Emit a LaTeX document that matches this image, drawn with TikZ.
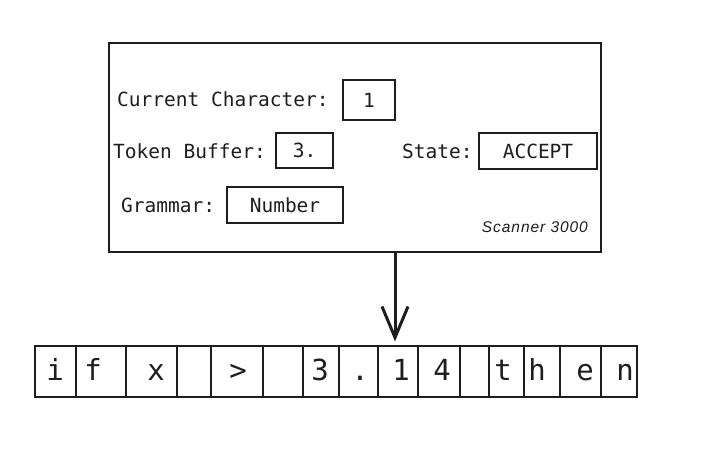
\documentclass[tikz,border=0pt]{standalone}
\usepackage{fontspec}
\setmonofont{DejaVu Sans Mono}
\newfontfamily\handfont[LetterSpace=6]{Liberation Sans}
\usetikzlibrary{arrows.meta}
\definecolor{ink}{HTML}{1E1E1E}
\tikzset{
  mainbox/.style={draw=ink, line width=2pt, inner sep=0pt},
  valbox/.style={draw=ink, line width=1.2pt, inner sep=0pt, text height=14pt, text depth=0pt, font=\ttfamily\fontsize{19.5}{20}\selectfont, text=ink},
  lbl/.style={inner sep=0pt, anchor=base west, font=\ttfamily\fontsize{19.5}{20}\selectfont, text=ink},
  cellbox/.style={draw=ink, line width=1.2pt, inner sep=0pt, minimum height=51pt},
  tapech/.style={inner sep=0pt, anchor=base, font=\ttfamily\fontsize{29}{30}\selectfont, text=ink},
  brand/.style={inner sep=0pt, anchor=base east, font=\handfont\itshape\fontsize{15.5}{16}\selectfont, text=ink},
  pointer/.style={draw=ink, line width=3pt, -{Straight Barb[length=31pt,width=26pt,line width=3pt]}}
}
\begin{document}
\begin{tikzpicture}[x=1pt,y=-1pt]
\useasboundingbox (0,0) rectangle (701,448);
\fill[white] (0,0) rectangle (701,448);

% scanner box
\node[mainbox, minimum width=492pt, minimum height=209pt] (main) at (355,147.5) {};

\node[lbl] (cclbl) at (117,106) {Current Character:};
\node[valbox, minimum width=52pt, minimum height=40pt] (cc) at (369,100) {1};

\node[lbl] (tblbl) at (113,158) {Token Buffer:};
\node[valbox, minimum width=57pt, minimum height=35pt] (tb) at (304.5,150.5) {3.};

\node[lbl] (stlbl) at (402,158) {State:};
\node[valbox, minimum width=118pt, minimum height=36pt] (st) at (538,151) {ACCEPT};

\node[lbl] (grlbl) at (121,212) {Grammar:};
\node[valbox, minimum width=116pt, minimum height=36pt] (gr) at (285,205) {Number};

\node[brand] (name) at (588,232) {Scanner 3000};

% tape cells
\foreach \l/\r/\n in {35/76/1, 76/126/2, 126/177/3, 177/211/4, 211/263/5, 263/303/6, 303/339/7, 339/378/8, 378/418/9, 418/460/10, 460/489/11, 489/524/12, 524/560/13, 560/601/14, 601/637/15}{
  \pgfmathsetmacro{\w}{\r-\l}
  \pgfmathsetmacro{\c}{(\r+\l)/2}
  \node[cellbox, minimum width=\w pt] (cell\n) at (\c,371.5) {};
}
% tape characters
\foreach \x/\ch/\n in {55/i/1, 93/f/2, 156/x/3, 238/>/5, 320/3/7, 360/./8, 401/1/9, 442/4/10, 503/t/12, 537/h/13, 585/e/14, 625/n/15}{
  \node[tapech] (ch\n) at (\x,380) {\ch};
}

% pointer
\coordinate (ax) at (395,0);
\draw[pointer] (main.south -| ax) -- ([yshift=4pt]cell9.north -| ax);
\end{tikzpicture}
\end{document}
